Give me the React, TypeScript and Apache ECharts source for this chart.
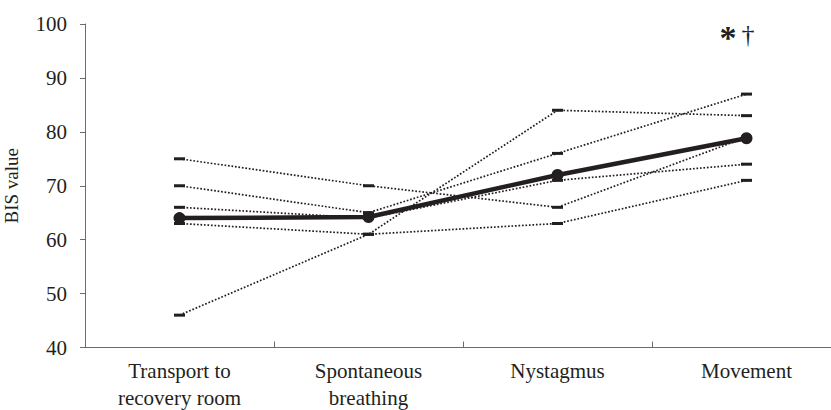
import React, { useEffect, useRef } from "react";
import * as echarts from "echarts";

const categories = ["Transport to\nrecovery room", "Spontaneous\nbreathing", "Nystagmus", "Movement"];
const subject1 = [75, 70, 66, 79];
const subject2 = [70, 65, 76, 87];
const subject3 = [66, 64, 71, 74];
const subject4 = [63, 61, 63, 71];
const subject5 = [46, 61, 84, 83];
const meanValues = [64, 64.2, 72, 78.8];
const yTicks = { min: 40, max: 100, interval: 10 };

const FONT = "Liberation Serif, Times New Roman, serif";
const INK = "#231f20";

export default function App() {
  const ref = useRef<HTMLDivElement>(null);
  useEffect(() => {
    const chart = echarts.init(ref.current!, null, { renderer: "svg" });
    const subjects = [subject1, subject2, subject3, subject4, subject5];
    const subjSeries = subjects.map((d, i) => ({
      name: "S" + (i + 1),
      type: "line",
      data: d,
      symbol: "rect",
      symbolSize: [11, 3],
      itemStyle: { color: INK },
      lineStyle: { color: INK, width: 1.7, type: [1.7, 1.8] },
      z: 2,
      silent: true,
    }));
    chart.setOption({
      animation: false,
      textStyle: { fontFamily: FONT },
      grid: { left: 85, right: -10, top: 24, bottom: 62.5, containLabel: false, outerBoundsMode: "none" },
      xAxis: {
        type: "category",
        data: categories,
        boundaryGap: true,
        axisLine: { lineStyle: { color: "#6b6b6b", width: 1 } },
        axisTick: { show: true, inside: true, length: 6, lineStyle: { color: "#6b6b6b" } },
        axisLabel: { fontFamily: FONT, fontSize: 21, color: INK, margin: 10, lineHeight: 27, interval: 0, hideOverlap: false },
      },
      yAxis: {
        type: "value",
        min: yTicks.min,
        max: yTicks.max,
        interval: yTicks.interval,
        name: "BIS value",
        nameLocation: "middle",
        nameGap: 64,
        nameRotate: 90,
        nameTextStyle: { fontFamily: FONT, fontSize: 19, color: INK },
        splitLine: { show: false },
        axisLine: { show: true, lineStyle: { color: "#6b6b6b", width: 1 } },
        axisTick: { show: true, length: 5, lineStyle: { color: "#6b6b6b" } },
        axisLabel: { fontFamily: FONT, fontSize: 21, color: INK, margin: 18 },
      },
      series: [
        ...subjSeries,
        {
          name: "Mean",
          type: "line",
          data: meanValues,
          symbol: "circle",
          symbolSize: 12,
          itemStyle: { color: INK },
          lineStyle: { color: INK, width: 4.5 },
          z: 5,
          silent: true,
        },
      ],
      graphic: [
        { type: "text", x: 728, y: 37, style: { text: "*", fontFamily: FONT, fontSize: 34, fontWeight: "bold", fill: INK, align: "center", verticalAlign: "middle" } },
        { type: "text", x: 748, y: 34, style: { text: "†", fontFamily: FONT, fontSize: 26, fill: INK, align: "center", verticalAlign: "middle" } },
      ],
    });
    return () => chart.dispose();
  }, []);
  return <div ref={ref} style={{ position: "fixed", left: 0, top: 0, width: 831, height: 410, background: "#fff" }} />;
}
